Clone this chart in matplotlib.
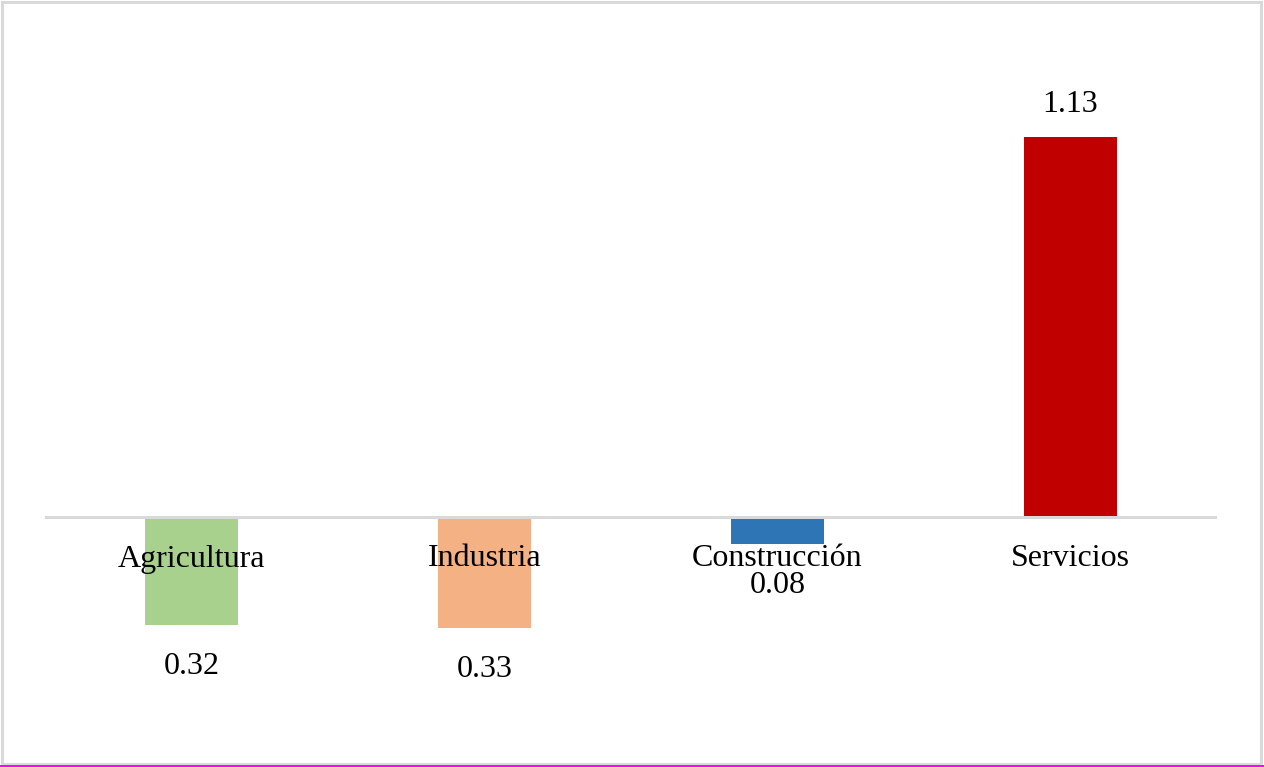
import matplotlib
matplotlib.use('Agg')
import matplotlib.pyplot as plt
from matplotlib.patches import Rectangle

# Datos
sectores = ['Agricultura', 'Industria', 'Construcción', 'Servicios']
valores = [-0.32, -0.33, -0.08, 1.13]
colores = ['#A9D18E', '#F4B183', '#2E75B6', '#C00000']

W, H = 1264, 767
fig = plt.figure(figsize=(W / 72, H / 72), dpi=72)
plt.rcParams['font.family'] = ['Liberation Serif', 'DejaVu Serif']

# ejes en pixeles: x 45..1217, y 20..740 (desde arriba)
ax = fig.add_axes([45 / W, (H - 740) / H, 1172 / W, 720 / H])
escala = 336.0  # px por unidad
ax.set_xlim(-0.5, len(sectores) - 0.5)
ax.set_ylim(-(740 - 517) / escala, (517 - 20) / escala)
ax.axis('off')

x = range(len(sectores))
ax.bar(x, valores, width=0.314, color=colores, zorder=2)
ax.axhline(0, color='#D9D9D9', linewidth=3, zorder=3)

for i, (s, v) in enumerate(zip(sectores, valores)):
    ax.annotate(s, (i, 0), xytext=(0, -42), textcoords='offset points',
                ha='center', va='center', fontsize=32, zorder=4)
    off = 33 if v > 0 else -42
    ax.annotate('%.2f' % abs(v), (i, v), xytext=(0, off), textcoords='offset points',
                ha='center', va='center', fontsize=32, zorder=4)

# borde de la figura
fig.add_artist(Rectangle((1.5 / W, 3.5 / H), (W - 5) / W, (H - 5.5) / H, transform=fig.transFigure,
                         fill=False, edgecolor='#D9D9D9', linewidth=3))
fig.add_artist(Rectangle((0, 0), 1, 2 / H, transform=fig.transFigure,
                         facecolor='#FF00FF', edgecolor='none'))

fig.savefig('out.png', dpi=72)
